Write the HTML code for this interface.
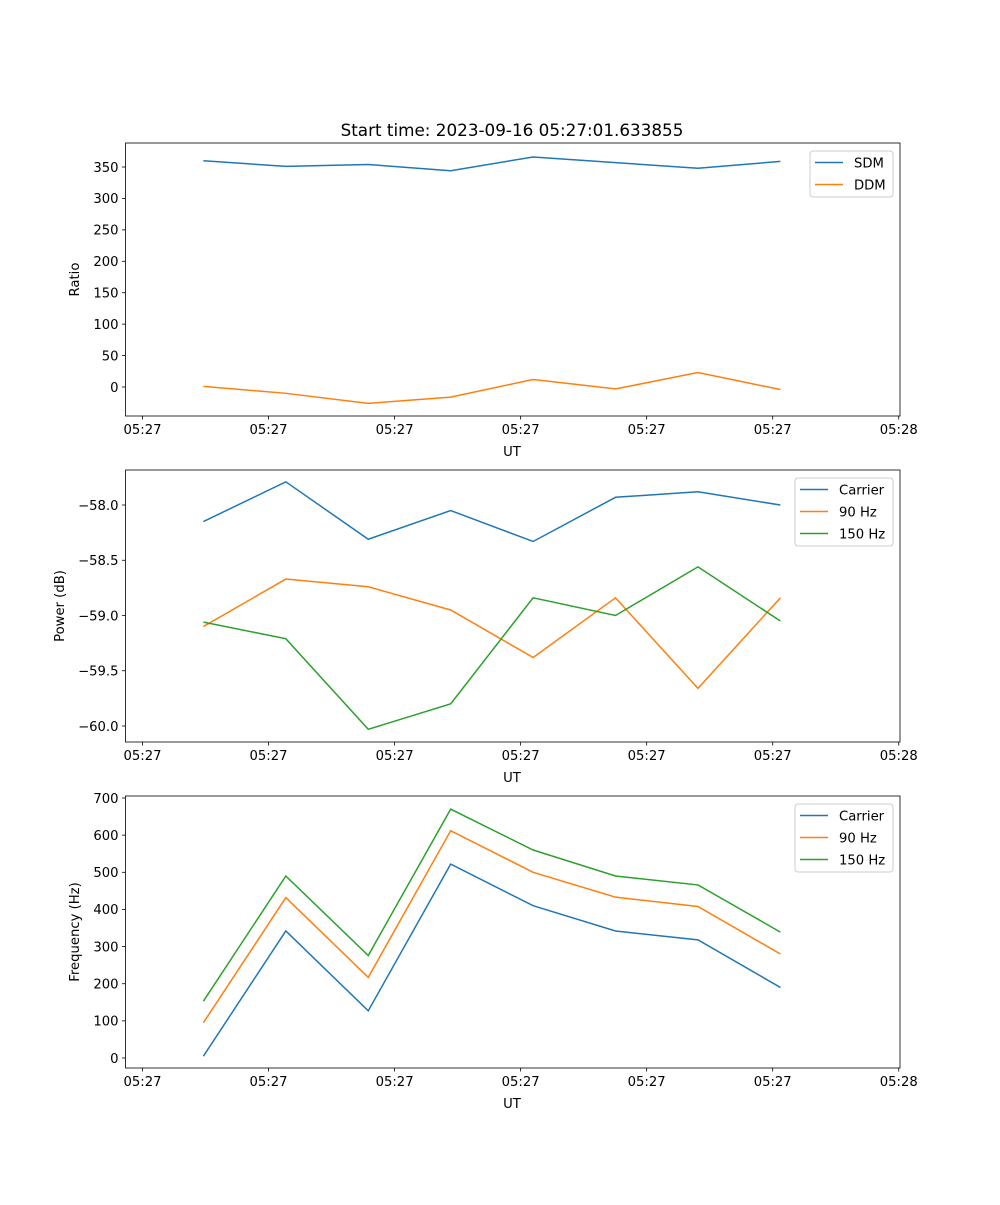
<!DOCTYPE html>
<html><head><meta charset="utf-8">
<style>
html,body{margin:0;padding:0;background:#fff;}
svg text{font-family:"DejaVu Sans","Liberation Sans",sans-serif;fill:#000;}
</style></head>
<body>
<svg id="fig" width="1000" height="1200" viewBox="0 0 1000 1200" xmlns="http://www.w3.org/2000/svg">
<rect width="1000" height="1200" fill="#fff"/>
<text x="512" y="136" font-size="16.8" text-anchor="middle">Start time: 2023-09-16 05:27:01.633855</text>
</svg>
<script>
// time in seconds after 05:27:00
const times = [4.83, 11.37, 17.91, 24.45, 30.99, 37.53, 44.07, 50.61];
const xTicks = [0, 10, 20, 30, 40, 50, 60];
const xTickLabels = ["05:27","05:27","05:27","05:27","05:27","05:27","05:28"];
const sdm = [360, 351, 354, 344, 366, 357, 348, 359];
const ddm = [1, -10, -26, -16, 12, -3, 23, -4];
const powCarrier = [-58.15, -57.79, -58.31, -58.05, -58.33, -57.93, -57.88, -58.0];
const pow90 = [-59.10, -58.67, -58.74, -58.95, -59.38, -58.84, -59.66, -58.84];
const pow150 = [-59.06, -59.21, -60.03, -59.80, -58.84, -59.0, -58.56, -59.05];
const freqCarrier = [5, 342, 127, 522, 410, 342, 318, 190];
const freq90 = [95, 432, 217, 612, 500, 433, 408, 280];
const freq150 = [153, 490, 276, 670, 560, 490, 466, 339];
const ticks1 = [0, 50, 100, 150, 200, 250, 300, 350];
const ticks2 = [-60.0, -59.5, -59.0, -58.5, -58.0];
const ticks3 = [0, 100, 200, 300, 400, 500, 600, 700];

const NS = "http://www.w3.org/2000/svg";
const svg = document.getElementById('fig');
const X0 = 125.5, X1 = 900, T0 = -1.35, T1 = 60.1;
function xs(t){ return X0 + (t - T0) / (T1 - T0) * (X1 - X0); }
function mk(tag, attrs, parent){ const e = document.createElementNS(NS, tag); for (const k in attrs) e.setAttribute(k, attrs[k]); (parent||svg).appendChild(e); return e; }
const C = ["#1f77b4", "#ff7f0e", "#2ca02c"];

function panel(name, top, bottom, ymin, ymax, yTicks, fmt, ylabel, ylabelX, series, legend){
  const g = mk('g', {});
  
  
  const ys = v => bottom - (v - ymin) / (ymax - ymin) * (bottom - top);
  series.forEach((s, i) => {
    const p = mk('polyline', {points: times.map((t, j) => xs(t).toFixed(2) + ',' + ys(s.v[j]).toFixed(2)).join(' '), fill: 'none', stroke: C[i], 'stroke-width': 1.5}, g);
    
    
  });
  const frame = mk('rect', {x: X0, y: top, width: X1 - X0, height: bottom - top, fill: 'none', stroke: '#000', 'stroke-width': 0.8}, g);
  
  
  xTicks.forEach((t, i) => {
    const x = xs(t);
    mk('line', {x1: x, x2: x, y1: bottom, y2: bottom + 3.5, stroke: '#000', 'stroke-width': 0.8}, g);
    const tx = mk('text', {x: x, y: bottom + 18, 'font-size': 13.2, 'text-anchor': 'middle'}, g);
    tx.textContent = xTickLabels[i];
    
    
  });
  yTicks.forEach(v => {
    const y = ys(v);
    mk('line', {x1: X0 - 3.5, x2: X0, y1: y, y2: y, stroke: '#000', 'stroke-width': 0.8}, g);
    const tx = mk('text', {x: X0 - 7, y: y + 4.8, 'font-size': 13.2, 'text-anchor': 'end'}, g);
    tx.textContent = fmt(v);
    
    
  });
  const xl = mk('text', {x: 512, y: bottom + 40, 'font-size': 13.2, 'text-anchor': 'middle'}, g);
  xl.textContent = 'UT';
  
  
  const cy = (top + bottom) / 2;
  const yl = mk('text', {x: ylabelX, y: cy, 'font-size': 13.2, 'text-anchor': 'middle', transform: 'rotate(-90 ' + ylabelX + ' ' + cy + ')'}, g);
  yl.textContent = ylabel;
  
  
  const lg = mk('g', {}, g);
  
  
  mk('rect', {x: legend.x, y: top + 8, width: 893 - legend.x, height: 22 * series.length + 2, rx: 3, fill: '#fff', 'fill-opacity': 0.8, stroke: '#ccc', 'stroke-width': 1}, lg);
  series.forEach((s, i) => {
    const y = top + 19.5 + i * 22;
    mk('line', {x1: legend.x + 5, x2: legend.x + 33, y1: y, y2: y, stroke: C[i], 'stroke-width': 1.5}, lg);
    const t = mk('text', {x: legend.x + 44, y: y + 5, 'font-size': 13.2}, lg);
    t.textContent = s.label;
    
    
  });
}
panel('ratio-panel', 143, 416, -46.1, 388.2, ticks1, v => v < 0 ? '\u2212' + (-v) : String(v), 'Ratio', 79,
  [{id:'sdm', label:'SDM', v:sdm}, {id:'ddm', label:'DDM', v:ddm}], {x:810});
panel('power-panel', 470, 742, -60.145, -57.683, ticks2, v => '\u2212' + (-v).toFixed(1), 'Power (dB)', 64,
  [{id:'power-carrier', label:'Carrier', v:powCarrier}, {id:'power-90hz', label:'90 Hz', v:pow90}, {id:'power-150hz', label:'150 Hz', v:pow150}], {x:795});
panel('frequency-panel', 796, 1068, -26.9, 705.4, ticks3, v => String(v), 'Frequency (Hz)', 79,
  [{id:'freq-carrier', label:'Carrier', v:freqCarrier}, {id:'freq-90hz', label:'90 Hz', v:freq90}, {id:'freq-150hz', label:'150 Hz', v:freq150}], {x:795});
</script>
</body></html>
